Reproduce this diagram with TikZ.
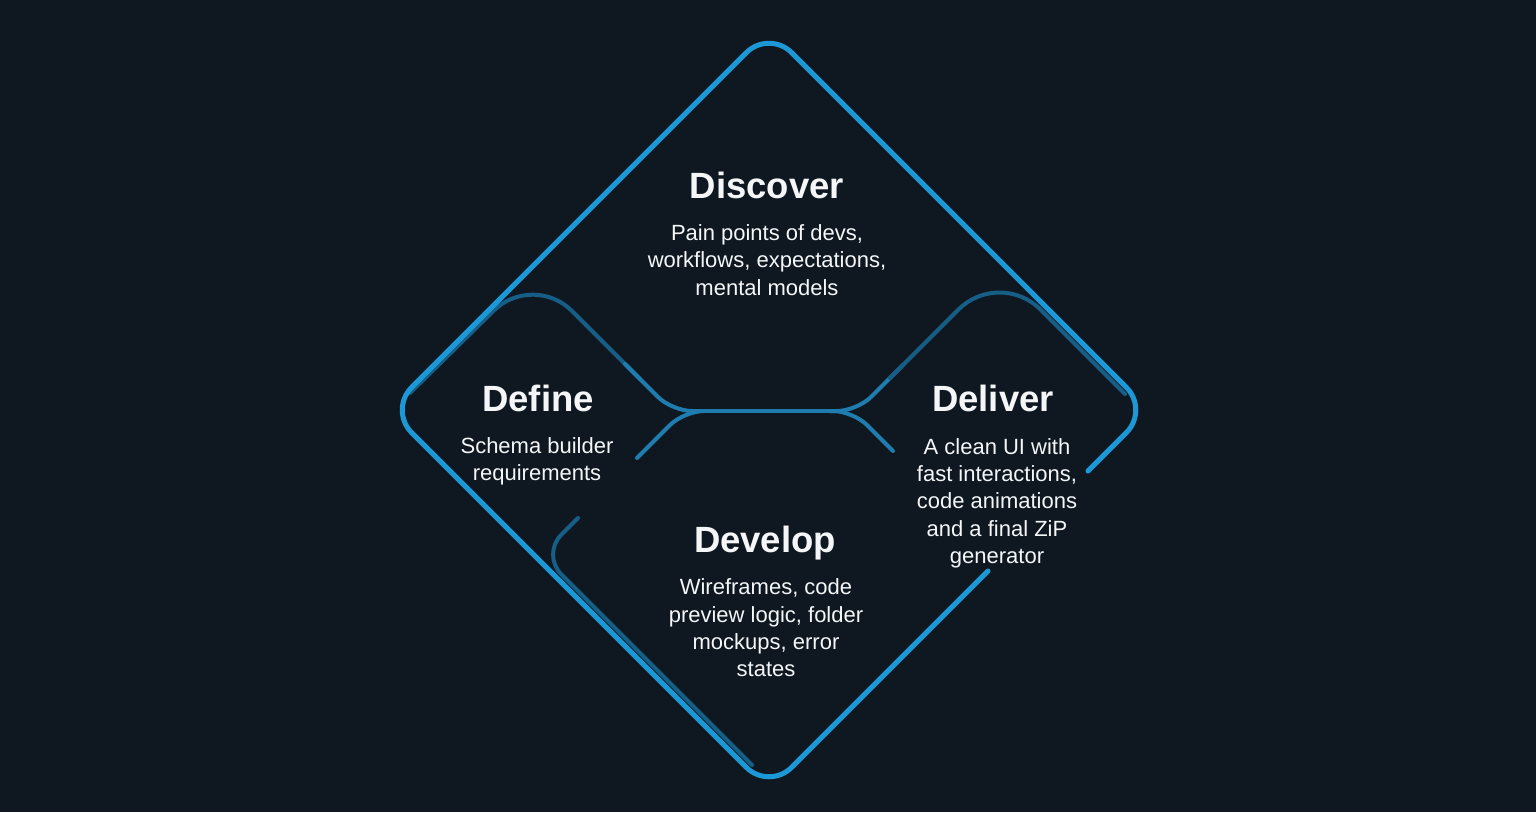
\documentclass[tikz,border=0pt]{standalone}
\usepackage{fontspec}
\setmainfont{Liberation Sans}
\definecolor{bg}{HTML}{0F1821}
\definecolor{outerblue}{HTML}{1B98D5}
\definecolor{innerblue}{HTML}{175E87}
\definecolor{midblue}{HTML}{1E7DAE}
\definecolor{txt}{HTML}{F4F6F8}
\begin{document}
\begin{tikzpicture}[x=1pt,y=-1pt,
  outerline/.style={draw=outerblue, line width=5pt, line cap=round, line join=round},
  innerline/.style={draw=innerblue, line width=4pt, line cap=round},
  hubline/.style={draw=midblue, line width=4pt, line cap=round},
  heading/.style={text=txt, font=\bfseries\fontsize{36.5}{40}\selectfont, anchor=base, inner sep=0pt},
  body/.style={text=txt, font=\fontsize{22}{27.3}\selectfont, align=center, inner sep=0pt},
]
\fill[bg] (0,0) rectangle (1536,812);
\useasboundingbox (0,0) rectangle (1536,812);

% inner shapes
\draw[innerline, rounded corners=55pt] (410,393) -- (533,272) -- (640,379);
\draw[hubline, rounded corners=20pt] (625,364) -- (672,411) -- (700,411);
\draw[hubline, rounded corners=20pt] (700,411) -- (684,411) -- (637,458);
\draw[hubline] (690,411) -- (840,411);
\draw[hubline, rounded corners=20pt] (830,411) -- (857,411) -- (903,365);
\draw[hubline, rounded corners=20pt] (830,411) -- (853,411) -- (893,451);
\draw[innerline, rounded corners=58pt] (890,378) -- (999.5,268.5) -- (1125,394);
\draw[innerline, rounded corners=28pt] (578,518) -- (541.5,554.5) -- (752,765);

% outer diamond
\draw[outerline, rounded corners=32pt] (1088,471) -- (1149,410) -- (769,30) -- (389,410) -- (769,790) -- (988,571);

% texts
\node[heading] (discover) at (767,198) {Discover};
\node[body] (discoverbody) at (767,260) {Pain points of devs,\\workflows, expectations,\\mental models};
\node[heading] (define) at (538,411) {Define};
\node[body] (definebody) at (537,461) {Schema builder\\requirements};
\node[heading] (deliver) at (993,411) {Deliver};
\node[body] (deliverbody) at (997,503) {A clean UI with\\fast interactions,\\code animations\\and a final ZiP\\generator};
\node[heading] (develop) at (765,552) {Develop};
\node[body] (developbody) at (766,628) {Wireframes, code\\preview logic, folder\\mockups, error\\states};
\end{tikzpicture}
\end{document}
